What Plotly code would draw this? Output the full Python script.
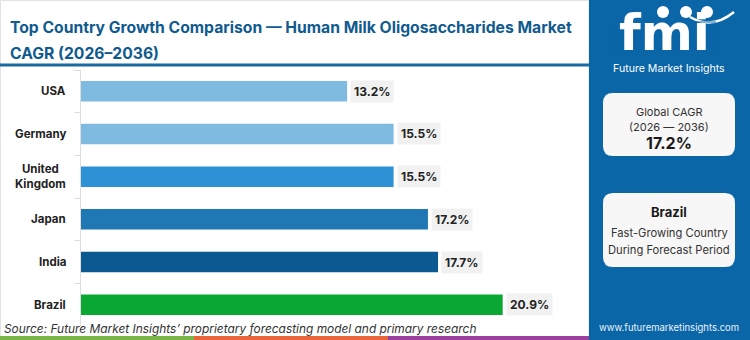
import plotly.graph_objects as go

# Country CAGR values (2026-2036), in %
countries = ["USA", "Germany", "United<br>Kingdom", "Japan", "India", "Brazil"]
cagr = [13.2, 15.5, 15.5, 17.2, 17.7, 20.9]
bar_colors = ["#7fbbe1", "#7fbbe1", "#2d92d5", "#1f77b3", "#0a5a91", "#0aa832"]
value_labels = ["13.2%", "15.5%", "15.5%", "17.2%", "17.7%", "20.9%"]

title_lines = ["Top Country Growth Comparison \u2014 Human Milk Oligosaccharides Market",
               "CAGR (2026\u20132036)"]
source_text = "Source: Future Market Insights\u2019 proprietary forecasting model and primary research"
global_cagr = "17.2%"
top_country = "Brazil"

W, H = 750, 340
FONT = "Inter"
PANEL_BLUE = "#0b66a8"
TITLE_BLUE = "#0f5b8f"


def px(x):
    return x / W


def py(y):
    return 1 - y / H


def rounded_rect(x0, y0, x1, y1, r):
    """SVG path for a rounded rectangle, pixel coords -> paper coords."""
    pts = [
        ("M", [(x0 + r, y0)]),
        ("L", [(x1 - r, y0)]),
        ("Q", [(x1, y0), (x1, y0 + r)]),
        ("L", [(x1, y1 - r)]),
        ("Q", [(x1, y1), (x1 - r, y1)]),
        ("L", [(x0 + r, y1)]),
        ("Q", [(x0, y1), (x0, y1 - r)]),
        ("L", [(x0, y0 + r)]),
        ("Q", [(x0, y0), (x0 + r, y0)]),
    ]
    out = []
    for cmd, coords in pts:
        out.append(cmd + " ".join(f"{px(a):.5f},{py(b):.5f}" for a, b in coords))
    return " ".join(out) + " Z"


fig = go.Figure()
fig.add_trace(go.Bar(
    x=cagr, y=countries, orientation="h",
    marker=dict(color=bar_colors, line=dict(width=0)),
    hoverinfo="skip", showlegend=False,
))

# value tags beside each bar
annotations = []
for c, v, lab in zip(countries, cagr, value_labels):
    annotations.append(dict(
        x=v, y=c, xref="x", yref="y", text=lab, showarrow=False,
        xanchor="left", xshift=3, bgcolor="#f1f1f1", borderpad=3,
        font=dict(family=FONT, size=12, color="#222222", weight="bold"),
    ))

# category labels, centred block right-aligned to the axis
for c in countries:
    annotations.append(dict(
        x=px(68), y=c, xref="paper", yref="y", text=c, showarrow=False,
        xanchor="right", align="center",
        font=dict(family=FONT, size=11.5, color="#222222", weight="bold"),
    ))

# title
for line, yc in zip(title_lines, (27.5, 53)):
    annotations.append(dict(
        x=px(8), y=py(yc), xref="paper", yref="paper", text=line,
        showarrow=False, xanchor="left", yanchor="middle",
        font=dict(family=FONT, size=15.7, color=TITLE_BLUE, weight="bold"),
    ))

# source line
annotations.append(dict(
    x=px(2), y=py(328), xref="paper", yref="paper", text=f"<i>{source_text}</i>",
    showarrow=False, xanchor="left", yanchor="middle",
    font=dict(family=FONT, size=11.9, color="#333333"),
))

# logo wordmark
annotations.append(dict(
    x=px(664), y=py(32.5), xref="paper", yref="paper", text="fmi",
    showarrow=False, xanchor="center", yanchor="middle",
    font=dict(family="DejaVu Sans", size=50, color="#ffffff", weight="bold"),
))

# right panel texts
cx = px(669)
panel_texts = [
    ("Future Market Insights", 68.5, 10.6, "#ffffff", "normal"),
    ("Global CAGR", 112, 11, "#333333", "normal"),
    ("(2026 \u2014 2036)", 127, 11, "#333333", "normal"),
    (global_cagr, 143, 16, "#1a1a1a", "bold"),
    (top_country, 212, 13, "#1a1a1a", "bold"),
    ("Fast-Growing Country", 233, 11.2, "#333333", "normal"),
    ("During Forecast Period", 250, 11.2, "#333333", "normal"),
    ("www.futuremarketinsights.com", 327, 9.5, "#e8f1f8", "normal"),
]
for txt, y, size, color, weight in panel_texts:
    annotations.append(dict(
        x=cx, y=py(y), xref="paper", yref="paper",
        text=txt, showarrow=False, xanchor="center", yanchor="middle",
        font=dict(family=FONT, size=size, color=color, weight=weight),
    ))

shapes = [
    # card border
    dict(type="rect", xref="paper", yref="paper", x0=px(0.5), y0=py(339.5), x1=px(589), y1=py(0.5),
         line=dict(color="#e3e3e3", width=1), fillcolor="rgba(0,0,0,0)", layer="below"),
    # underline of the title
    dict(type="line", xref="paper", yref="paper", x0=0, x1=px(589), y0=py(65), y1=py(65),
         line=dict(color="#1a6aa3", width=3)),
    # right panel
    dict(type="rect", xref="paper", yref="paper", x0=px(589), x1=1, y0=0, y1=1,
         fillcolor=PANEL_BLUE, line=dict(width=0), layer="below"),
    # bottom colour stripe
    dict(type="rect", xref="paper", yref="paper", x0=0, x1=px(194), y0=0, y1=py(336),
         fillcolor="#7ab648", line=dict(width=0)),
    dict(type="rect", xref="paper", yref="paper", x0=px(194), x1=px(388), y0=0, y1=py(336),
         fillcolor="#e8663a", line=dict(width=0)),
    dict(type="rect", xref="paper", yref="paper", x0=px(388), x1=px(589), y0=0, y1=py(336),
         fillcolor="#9b3fa0", line=dict(width=0)),
    # info boxes
    dict(type="path", xref="paper", yref="paper", path=rounded_rect(603, 93, 735, 156, 10),
         fillcolor="#f7f7f7", line=dict(width=0)),
    dict(type="path", xref="paper", yref="paper", path=rounded_rect(603, 193, 735, 267, 10),
         fillcolor="#f7f7f7", line=dict(width=0)),
    # swoosh under the logo icons
    dict(type="path", xref="paper", yref="paper",
         path=f"M{px(690):.5f},{py(17):.5f} Q{px(712):.5f},{py(30):.5f} {px(734):.5f},{py(12):.5f}",
         line=dict(color="#ffffff", width=2.5)),
]

# logo icons above the letters
for icx in (663, 686, 707):
    shapes.append(dict(type="circle", xref="paper", yref="paper",
                       x0=px(icx - 6), x1=px(icx + 6), y0=py(18), y1=py(6),
                       fillcolor="#ffffff", line=dict(width=0)))
# striped look of the logo letters
yy = 22.0
while yy < 52:
    shapes.append(dict(type="line", xref="paper", yref="paper", x0=px(612), x1=px(716),
                       y0=py(yy), y1=py(yy), line=dict(color=PANEL_BLUE, width=1)))
    yy += 3.4

fig.update_layout(
    width=W, height=H,
    margin=dict(l=0, r=0, t=0, b=0),
    paper_bgcolor="#ffffff", plot_bgcolor="#ffffff",
    bargap=0.52,
    xaxis=dict(domain=[px(80.5), px(585.5)], range=[0, 25], visible=False, fixedrange=True),
    yaxis=dict(domain=[py(326), py(70)], autorange=False, range=[5.5, -0.5],
               type="category", categoryorder="array", categoryarray=countries,
               showticklabels=False, showline=True, linecolor="#dddddd", linewidth=1,
               ticks="outside", tickson="boundaries", ticklen=6, tickcolor="#dddddd",
               showgrid=False, zeroline=False, fixedrange=True),
    annotations=annotations,
    shapes=shapes,
    showlegend=False,
)

fig.write_html("out.html")
